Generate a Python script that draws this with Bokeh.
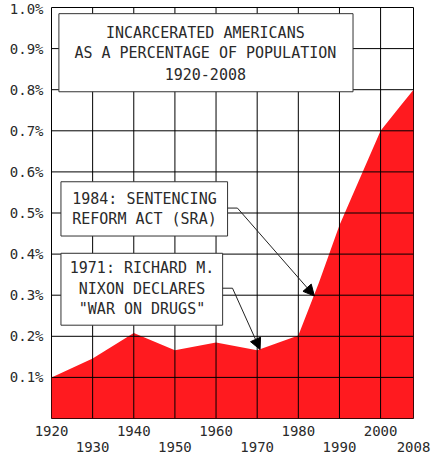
from bokeh.plotting import figure
from bokeh.models import (LinearAxis, FixedTicker, BoxAnnotation, Span,
                          Label, Arrow, NormalHead, Range1d)
from bokeh.embed import file_html
from bokeh.resources import INLINE

# ---- data ----
years = [1920, 1930, 1940, 1950, 1960, 1970, 1980, 1985, 1990, 1995, 2000, 2005, 2008]
pct = [0.100, 0.146, 0.208, 0.166, 0.185, 0.166, 0.202, 0.330, 0.470, 0.585, 0.700, 0.763, 0.800]

y_ticks = [0.1, 0.2, 0.3, 0.4, 0.5, 0.6, 0.7, 0.8, 0.9, 1.0]
y_labels = ["0.1%", "0.2%", "0.3%", "0.4%", "0.5%", "0.6%", "0.7%", "0.8%", "0.9%", "1.0%"]
x_ticks_row1 = [1920, 1940, 1960, 1980, 2000]
x_ticks_row2 = [1930, 1950, 1970, 1990, 2008]
x_grid = [1930, 1940, 1950, 1960, 1970, 1980, 1990, 2000]
y_grid = [0.1, 0.2, 0.3, 0.4, 0.5, 0.6, 0.7, 0.8, 0.9]

title_lines = ["INCARCERATED AMERICANS", "AS A PERCENTAGE OF POPULATION", "1920-2008"]
sra_lines = ["1984: SENTENCING", "REFORM ACT (SRA)"]
nixon_lines = ["1971: RICHARD M.", "NIXON DECLARES", "\"WAR ON DRUGS\""]

FONT = "DejaVu Sans Mono"
RED = "#ff1a1f"
TXT = "#2a2a2a"
GRID = "#000000"
LVL = "overlay"

X0, X1 = 1920, 2008
Y0, Y1 = 0.0, 1.0

p = figure(width=448, height=462, output_backend="svg", toolbar_location=None,
           x_range=Range1d(X0, X1), y_range=Range1d(Y0, Y1),
           x_axis_location=None, y_axis_location=None,
           min_border_left=51, min_border_right=35, min_border_top=7, min_border_bottom=44)
p.background_fill_color = "white"
p.border_fill_color = "white"
p.outline_line_color = GRID
p.outline_line_width = 1
p.grid.visible = False

# filled area under the series
p.varea(x=years, y1=[Y0] * len(years), y2=pct, fill_color=RED, fill_alpha=1.0)

# grid lines on top of the red fill
for g in x_grid:
    p.add_layout(Span(location=g, dimension="height", line_color=GRID, line_width=1, level=LVL))
for g in y_grid:
    p.add_layout(Span(location=g, dimension="width", line_color=GRID, line_width=1, level=LVL))

# left axis
yax = LinearAxis(ticker=FixedTicker(ticks=y_ticks),
                 major_label_overrides={t: l for t, l in zip(y_ticks, y_labels)})
# bottom axes: two staggered rows of year labels
xax1 = LinearAxis(ticker=FixedTicker(ticks=x_ticks_row1),
                  major_label_overrides={t: str(t) for t in x_ticks_row1})
xax2 = LinearAxis(ticker=FixedTicker(ticks=x_ticks_row2),
                  major_label_overrides={t: str(t) for t in x_ticks_row2})
for ax in (yax, xax1, xax2):
    ax.axis_line_color = None
    ax.major_tick_line_color = None
    ax.minor_tick_line_color = None
    ax.major_tick_out = 0
    ax.major_tick_in = 0
    ax.minor_tick_out = 0
    ax.major_label_text_font = FONT
    ax.major_label_text_font_size = "14px"
    ax.major_label_text_font_style = "normal"
    ax.major_label_text_color = TXT
yax.major_label_standoff = 8
xax1.major_label_standoff = 7
xax2.major_label_standoff = 3
p.add_layout(yax, "left")
p.add_layout(xax1, "below")
p.add_layout(xax2, "below")

def box(left, right, bottom, top):
    p.add_layout(BoxAnnotation(left=left, right=right, bottom=bottom, top=top,
                               fill_color="white", fill_alpha=1.0, level=LVL,
                               line_color="#333333", line_width=1, line_alpha=1.0))

def lines(xc, ys, texts, size="15px"):
    for yy, t in zip(ys, texts):
        p.add_layout(Label(x=xc, y=yy, text=t, text_align="center", text_baseline="middle",
                           text_font=FONT, text_font_size=size, text_color=TXT, level=LVL))

# title box
box(1921.8, 1993.3, 0.795, 0.985)
lines(1957.4, [0.939, 0.889, 0.838], title_lines)

# SRA box
box(1922.3, 1962.8, 0.444, 0.576)
lines(1942.6, [0.535, 0.485], sra_lines)

# Nixon box
box(1922.3, 1961.6, 0.227, 0.402)
lines(1942.0, [0.367, 0.316, 0.267], nixon_lines)

# arrows
def arrow(x0, y0, x1, y1, head=True):
    end = NormalHead(size=11, fill_color="black", line_color="black") if head else None
    p.add_layout(Arrow(end=end, x_start=x0, y_start=y0, x_end=x1, y_end=y1,
                       line_color="#222222", line_width=1, level=LVL))

arrow(1962.8, 0.512, 1965.2, 0.512, head=False)
arrow(1965.2, 0.512, 1983.9, 0.298)
arrow(1961.6, 0.317, 1964.0, 0.317, head=False)
arrow(1964.0, 0.317, 1970.7, 0.168)

open("out.html", "w").write(file_html(p, INLINE))
